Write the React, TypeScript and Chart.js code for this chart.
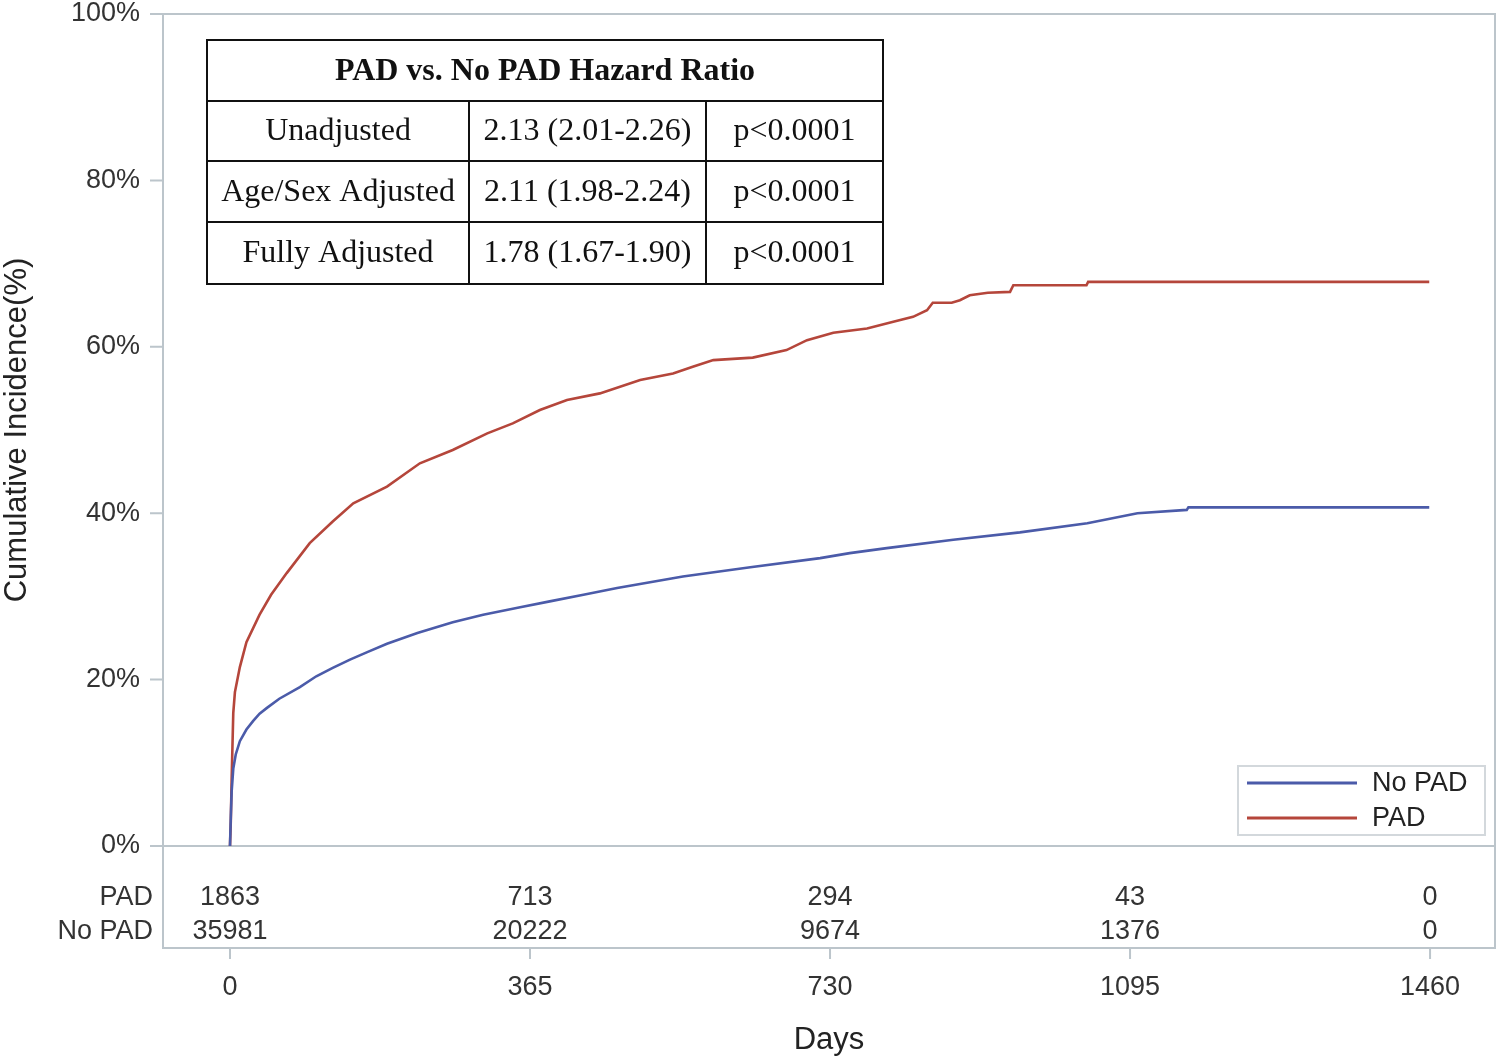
import React, { useEffect, useRef } from 'react';
import { Chart, registerables } from 'chart.js';

Chart.register(...registerables);

// ---- data ----
const xTicks = [0, 365, 730, 1095, 1460];
const yTicks = [0, 20, 40, 60, 80, 100];
const seriesLabels = ['No PAD', 'PAD'];

const noPadDays = [0, 1, 2, 4, 7, 12, 20, 28, 36, 45, 60, 85, 105, 125, 146, 167, 191, 228, 271, 308, 353, 389, 430, 471, 551, 633, 718, 754, 799, 880, 961, 1043, 1104, 1164, 1166, 1459];
const noPadIncidence = [0, 3.5, 6.5, 9.3, 11.0, 12.6, 14.0, 15.0, 15.9, 16.6, 17.7, 19.1, 20.4, 21.4, 22.4, 23.3, 24.3, 25.6, 26.9, 27.8, 28.7, 29.4, 30.2, 31.0, 32.4, 33.5, 34.6, 35.2, 35.8, 36.8, 37.7, 38.8, 40.0, 40.4, 40.7, 40.7];

const padDays = [0, 1, 2, 3, 4, 6, 12, 20, 36, 50, 69, 97, 125, 150, 191, 231, 271, 313, 344, 377, 410, 450, 499, 539, 563, 588, 636, 677, 702, 734, 775, 807, 831, 848, 855, 878, 888, 900, 922, 949, 953, 1042, 1044, 1459];
const padIncidence = [0, 3, 8, 12, 16, 18.5, 21.5, 24.5, 27.8, 30.2, 32.8, 36.4, 39, 41.2, 43.2, 46, 47.6, 49.6, 50.8, 52.4, 53.6, 54.4, 56, 56.8, 57.6, 58.4, 58.7, 59.6, 60.8, 61.7, 62.2, 63, 63.6, 64.4, 65.3, 65.3, 65.6, 66.2, 66.5, 66.6, 67.4, 67.4, 67.8, 67.8];

const atRiskPad = [1863, 713, 294, 43, 0];
const atRiskNoPad = [35981, 20222, 9674, 1376, 0];

const hrTitle = 'PAD vs. No PAD Hazard Ratio';
const hrModels = ['Unadjusted', 'Age/Sex Adjusted', 'Fully Adjusted'];
const hrEstimates = ['2.13 (2.01-2.26)', '2.11 (1.98-2.24)', '1.78 (1.67-1.90)'];
const hrPValues = ['p<0.0001', 'p<0.0001', 'p<0.0001'];

// ---- styles ----
const SANS = '"Liberation Sans", Arial, Helvetica, sans-serif';
const SERIF = '"Liberation Serif", "Times New Roman", serif';
const FRAME = '#bcc5cb';
const TEXT = '#333333';
const BLUE = '#4b5ba9';
const RED = '#b5463b';

const overlayPlugin = {
  id: 'kmOverlay',
  beforeDatasetsDraw(chart: any) {
    const { ctx, chartArea: ca, scales } = chart;
    const x = scales.x;
    const y = scales.y;
    const bottom = ca.bottom + 102;
    ctx.save();
    ctx.strokeStyle = FRAME;
    ctx.lineWidth = 2;
    ctx.strokeRect(ca.left, ca.top, ca.right - ca.left, bottom - ca.top);
    ctx.beginPath();
    ctx.moveTo(ca.left, ca.bottom);
    ctx.lineTo(ca.right, ca.bottom);
    xTicks.forEach((v) => {
      const px = x.getPixelForValue(v);
      ctx.moveTo(px, bottom);
      ctx.lineTo(px, bottom + 11);
    });
    yTicks.forEach((v) => {
      const py = y.getPixelForValue(v);
      ctx.moveTo(ca.left - 13, py);
      ctx.lineTo(ca.left, py);
    });
    ctx.stroke();

    // numbers at risk
    ctx.font = `27px ${SANS}`;
    ctx.fillStyle = TEXT;
    ctx.textBaseline = 'middle';
    ctx.textAlign = 'right';
    ctx.fillText(seriesLabels[1], ca.left - 10, ca.bottom + 52);
    ctx.fillText(seriesLabels[0], ca.left - 10, ca.bottom + 86);
    ctx.textAlign = 'center';
    xTicks.forEach((v, i) => {
      const px = x.getPixelForValue(v);
      ctx.fillText(String(atRiskPad[i]), px, ca.bottom + 52);
      ctx.fillText(String(atRiskNoPad[i]), px, ca.bottom + 86);
    });
    ctx.restore();
  },
  afterDraw(chart: any) {
    const { ctx } = chart;
    ctx.save();
    // hazard ratio table
    const cols = [207, 469, 706, 883];
    const rows = [40, 101, 161, 222, 284];
    ctx.fillStyle = '#ffffff';
    ctx.fillRect(cols[0], rows[0], cols[3] - cols[0], rows[4] - rows[0]);
    ctx.strokeStyle = '#111111';
    ctx.lineWidth = 2;
    ctx.strokeRect(cols[0], rows[0], cols[3] - cols[0], rows[4] - rows[0]);
    ctx.beginPath();
    for (let r = 1; r < 4; r++) {
      ctx.moveTo(cols[0], rows[r]);
      ctx.lineTo(cols[3], rows[r]);
    }
    for (let c = 1; c < 3; c++) {
      ctx.moveTo(cols[c], rows[1]);
      ctx.lineTo(cols[c], rows[4]);
    }
    ctx.stroke();
    ctx.fillStyle = '#111111';
    ctx.textAlign = 'center';
    ctx.textBaseline = 'middle';
    ctx.font = `bold 32px ${SERIF}`;
    ctx.fillText(hrTitle, (cols[0] + cols[3]) / 2, (rows[0] + rows[1]) / 2 + 1);
    ctx.font = `32px ${SERIF}`;
    hrModels.forEach((m, i) => {
      const cy = (rows[i + 1] + rows[i + 2]) / 2 + 1;
      ctx.fillText(m, (cols[0] + cols[1]) / 2, cy);
      ctx.fillText(hrEstimates[i], (cols[1] + cols[2]) / 2, cy);
      ctx.fillText(hrPValues[i], (cols[2] + cols[3]) / 2, cy);
    });

    // legend
    const lx = 1238, ly = 766, lw = 247, lh = 69;
    ctx.fillStyle = '#ffffff';
    ctx.fillRect(lx, ly, lw, lh);
    ctx.strokeStyle = '#d3d8dc';
    ctx.lineWidth = 2;
    ctx.strokeRect(lx, ly, lw, lh);
    ctx.font = `27px ${SANS}`;
    ctx.textAlign = 'left';
    chart.data.datasets.forEach((ds: any, i: number) => {
      const cy = ly + 17 + i * 35;
      ctx.strokeStyle = ds.borderColor;
      ctx.lineWidth = 3;
      ctx.beginPath();
      ctx.moveTo(lx + 9, cy);
      ctx.lineTo(lx + 119, cy);
      ctx.stroke();
      ctx.fillStyle = '#222222';
      ctx.fillText(ds.label, lx + 134, cy + 1);
    });
    ctx.restore();
  },
};

export default function App() {
  const canvasRef = useRef<HTMLCanvasElement | null>(null);

  useEffect(() => {
    if (!canvasRef.current) return;
    const chart = new Chart(canvasRef.current, {
      type: 'line',
      data: {
        datasets: [
          {
            label: seriesLabels[0],
            data: noPadDays.map((d, i) => ({ x: d, y: noPadIncidence[i] })),
            borderColor: BLUE,
            borderWidth: 2.6,
            pointRadius: 0,
            tension: 0,
          },
          {
            label: seriesLabels[1],
            data: padDays.map((d, i) => ({ x: d, y: padIncidence[i] })),
            borderColor: RED,
            borderWidth: 2.6,
            pointRadius: 0,
            tension: 0,
          },
        ],
      },
      options: {
        animation: false,
        responsive: true,
        maintainAspectRatio: false,
        layout: { padding: { top: 14, right: 5, left: 0, bottom: 0 } },
        plugins: {
          legend: { display: false },
          tooltip: { enabled: false },
        },
        scales: {
          x: {
            type: 'linear',
            min: -81.5,
            max: 1539,
            afterBuildTicks: (scale: any) => {
              scale.ticks = xTicks.map((v) => ({ value: v }));
            },
            afterFit: (scale: any) => {
              scale.height = 214;
            },
            grid: { display: false, drawTicks: true, tickLength: 128 },
            border: { display: false },
            ticks: {
              autoSkip: false,
              maxRotation: 0,
              padding: 0,
              color: TEXT,
              font: { family: SANS, size: 27, lineHeight: 1 },
              callback: (v: any) => String(v),
            },
            title: {
              display: true,
              text: 'Days',
              color: '#222222',
              font: { family: SANS, size: 31, lineHeight: 1.2 },
              padding: { top: 0, bottom: 1 },
            },
          },
          y: {
            type: 'linear',
            min: 0,
            max: 100,
            afterBuildTicks: (scale: any) => {
              scale.ticks = yTicks.map((v) => ({ value: v }));
            },
            afterFit: (scale: any) => {
              scale.width = 163;
            },
            grid: {
              display: false,
              drawTicks: true,
              tickLength: 23,
            },
            border: { display: false },
            ticks: {
              padding: 0,
              color: TEXT,
              font: { family: SANS, size: 27, lineHeight: 1 },
              callback: (v: any) => `${v}%`,
            },
            title: {
              display: true,
              text: 'Cumulative Incidence(%)',
              color: '#222222',
              font: { family: SANS, size: 31, lineHeight: 1.1 },
              padding: { top: 0, bottom: 0 },
            },
          },
        },
      },
      plugins: [overlayPlugin],
    });
    return () => chart.destroy();
  }, []);

  return (
    <div style={{ position: 'fixed', left: 0, top: 0, width: 1500, height: 1060, background: '#ffffff' }}>
      <canvas ref={canvasRef} />
    </div>
  );
}
